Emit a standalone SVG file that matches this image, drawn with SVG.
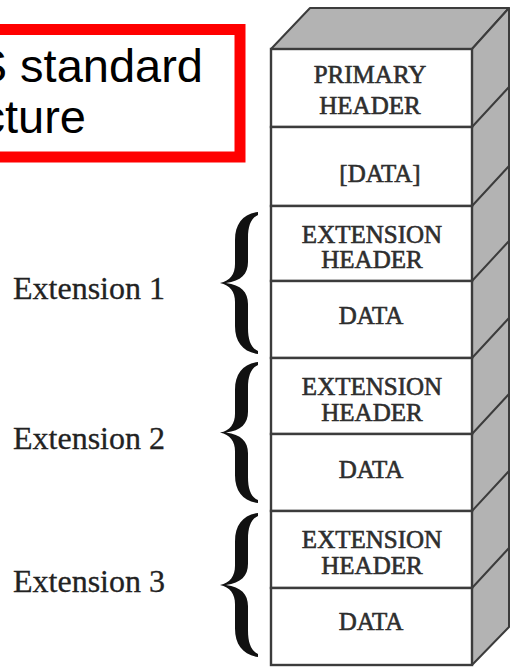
<svg xmlns="http://www.w3.org/2000/svg" width="513" height="667" viewBox="0 0 513 667">
<style>
.face{fill:#b3b3b3;stroke:#3c3c3c;stroke-width:2;stroke-linejoin:round}
.cell{fill:#ffffff;stroke:#3c3c3c;stroke-width:2.4}
.edge{stroke:#3c3c3c;stroke-width:2;fill:none}
.cl{font-family:"Liberation Serif","Times New Roman",serif;font-size:25px;fill:#2e2e2e;stroke:#2e2e2e;stroke-width:0.6;text-anchor:middle}
.lab{font-family:"Liberation Serif","Times New Roman",serif;font-size:32px;fill:#222;stroke:#222;stroke-width:0.3}
.brace{fill:#111}
.title{font-family:"Liberation Sans",Arial,sans-serif;font-size:47px;fill:#000;text-anchor:end}
</style>
<defs>
<path id="br" d="M38 0 C23 2 15 12 15 28 L15 52 C15 62 10 69 0 71 C10 73 15 80 15 90 L15 114 C15 130 23 140 38 142 L38 139 C31 136 28 128 28 116 L28 92 C28 80 21 73 6 71 C21 69 28 62 28 50 L28 26 C28 14 31 6 38 3 Z"/>
</defs>
<rect width="513" height="667" fill="#fff"/>

<g id="title">
<rect x="-20" y="29.5" width="260" height="127.5" fill="#fff" stroke="#ff0000" stroke-width="11"/>
<text class="title" x="203" y="82">S standard</text>
<text class="title" x="86" y="133">cture</text>
</g>

<g id="stack-sides">
<polygon class="face" points="271,49 310,8 509,8 472,49"/>
<polygon class="face" points="472,49 509,8 509,627 472,665"/>
<path class="edge" d="M472 127 L509 87 M472 206 L509 166 M472 281 L509 241 M472 358 L509 318 M472 434 L509 394 M472 511 L509 471 M472 588 L509 548"/>
</g>

<g id="primary-header">
<rect class="cell" x="271" y="49" width="201" height="78"/>
<text class="cl" x="370" y="83">PRIMARY</text>
<text class="cl" x="370" y="114">HEADER</text>
</g>
<g id="primary-data">
<rect class="cell" x="271" y="127" width="201" height="79"/>
<text class="cl" x="380" y="182">[DATA]</text>
</g>
<g id="ext1-header">
<rect class="cell" x="271" y="206" width="201" height="75"/>
<text class="cl" x="372" y="243">EXTENSION</text>
<text class="cl" x="372" y="268">HEADER</text>
</g>
<g id="ext1-data">
<rect class="cell" x="271" y="281" width="201" height="77"/>
<text class="cl" x="371" y="324">DATA</text>
</g>
<g id="ext2-header">
<rect class="cell" x="271" y="358" width="201" height="76"/>
<text class="cl" x="372" y="395">EXTENSION</text>
<text class="cl" x="372" y="421">HEADER</text>
</g>
<g id="ext2-data">
<rect class="cell" x="271" y="434" width="201" height="77"/>
<text class="cl" x="371" y="478">DATA</text>
</g>
<g id="ext3-header">
<rect class="cell" x="271" y="511" width="201" height="77"/>
<text class="cl" x="372" y="548">EXTENSION</text>
<text class="cl" x="372" y="574">HEADER</text>
</g>
<g id="ext3-data">
<rect class="cell" x="271" y="588" width="201" height="77"/>
<text class="cl" x="371" y="630">DATA</text>
</g>

<g id="extension1">
<use href="#br" class="brace" transform="translate(220,212)"/>
<text class="lab" x="13" y="299">Extension 1</text>
</g>
<g id="extension2">
<use href="#br" class="brace" transform="translate(220,362) scale(1,0.993)"/>
<text class="lab" x="13" y="449">Extension 2</text>
</g>
<g id="extension3">
<use href="#br" class="brace" transform="translate(220,513) scale(1,1.014)"/>
<text class="lab" x="13" y="592">Extension 3</text>
</g>
</svg>
